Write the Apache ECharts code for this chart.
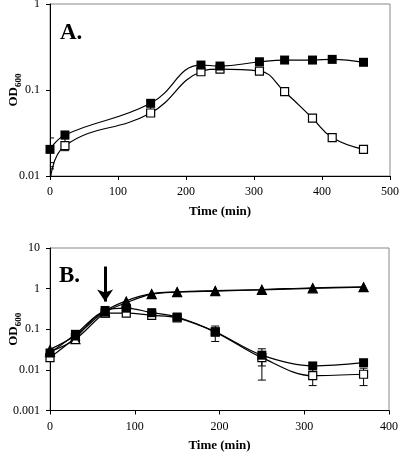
<!DOCTYPE html>
<html>
<head>
<meta charset="utf-8">
<script src="https://cdn.jsdelivr.net/npm/echarts@6/dist/echarts.min.js"></script>
<style>
html,body{margin:0;padding:0;background:#fff;}
#c{width:400px;height:461px;}
</style>
</head>
<body>
<div id="c"></div>
<script>
// ---- Panel A data ----
const timeA = [0, 22, 148, 222, 250, 308, 345, 386, 415, 461];
const filledA = [0.0204, 0.030, 0.070, 0.195, 0.19, 0.213, 0.223, 0.223, 0.227, 0.21];
const openA = [0.008, 0.0225, 0.054, 0.163, 0.175, 0.166, 0.0955, 0.047, 0.028, 0.0204];
// error bars: [time, low, high]
const errA = [[0, 0.0143, 0.0277], [0, 0.0121, 0.0128], [22, 0.0197, 0.027], [148, 0.05, 0.075]];
const xTicksA = [0, 100, 200, 300, 400, 500];
const yTicksA = [0.01, 0.1, 1];

// ---- Panel B data ----
const timeB = [0, 30, 65, 90, 120, 150, 195, 250, 310, 370];
const filledTriB = [0.032, 0.07, 0.28, 0.5, 0.75, 0.83, 0.89, 0.95, 1.05, 1.1];
const openTriB = [0.028, 0.057, 0.26, 0.45, 0.73, 0.82, 0.87, 0.93, 1.02, 1.08];
const filledSqB = [0.026, 0.075, 0.29, 0.33, 0.256, 0.2, 0.087, 0.023, 0.0125, 0.015];
const openSqB = [0.02, 0.062, 0.25, 0.25, 0.22, 0.19, 0.085, 0.02, 0.0072, 0.0078];
const errB = [[195, 0.05, 0.12], [250, 0.0125, 0.033], [250, 0.0056, 0.02], [310, 0.0041, 0.0125], [370, 0.0041, 0.011]];
const arrowB = [65, 3.5, 0.48];
const xTicksB = [0, 100, 200, 300, 400];
const yTicksB = [0.001, 0.01, 0.1, 1, 10];

const FONT = 'Liberation Serif';

function fmtLog(v){
  const r = Math.round(Math.log10(v));
  if (r >= 0) return String(Math.pow(10, r));
  return (Math.pow(10, r)).toFixed(-r);
}

function pairs(xs, ys){ return xs.map((x,i)=>[x, ys[i]]); }

function errRender(params, api){
  const x = api.value(0), lo = api.value(1), hi = api.value(2);
  const p1 = api.coord([x, hi]), p2 = api.coord([x, lo]);
  const w = 4;
  const st = {stroke:'#000', lineWidth:1};
  return {type:'group', children:[
    {type:'line', shape:{x1:p1[0],y1:p1[1],x2:p2[0],y2:p2[1]}, style:st},
    {type:'line', shape:{x1:p1[0]-w,y1:p1[1],x2:p1[0]+w,y2:p1[1]}, style:st},
    {type:'line', shape:{x1:p2[0]-w,y1:p2[1],x2:p2[0]+w,y2:p2[1]}, style:st}
  ]};
}

const axisLabelStyle = {fontFamily: FONT, fontSize: 12, color: '#000'};
const odName = '{a|OD}{b|600}';
const odRich = {
  a: {fontFamily: FONT, fontSize: 13, fontWeight: 'bold', color:'#000', lineHeight: 16, verticalAlign:'bottom'},
  b: {fontFamily: FONT, fontSize: 9, fontWeight: 'bold', color:'#000', lineHeight: 16, verticalAlign:'bottom', padding:[0,0,-3,0]}
};

function xAxis(gi, max, ticks){
  return {
    type:'value', gridIndex: gi, min: 0, max: max, interval: 100,
    name: 'Time (min)', nameLocation:'middle', nameGap: 29, nameMoveOverlap: false,
    nameTextStyle: {fontFamily: FONT, fontSize: 13, fontWeight:'bold', color:'#000'},
    axisLine:{show:true, onZero:false, lineStyle:{color:'#000', width:1}},
    axisTick:{show:true, length:4, lineStyle:{color:'#000'}},
    axisLabel: Object.assign({margin: 10, formatter: v => ticks.includes(v) ? String(v) : ''}, axisLabelStyle),
    splitLine:{show:false}
  };
}
function yAxis(gi, min, max){
  return {
    type:'log', gridIndex: gi, min: min, max: max, logBase: 10,
    name: odName, nameLocation:'middle', nameGap: 30, nameRotate: 90, nameMoveOverlap: false,
    nameTextStyle: {rich: odRich},
    axisLine:{show:true, onZero:false, lineStyle:{color:'#000', width:1}},
    axisTick:{show:true, length:4, lineStyle:{color:'#000'}},
    minorTick:{show:false},
    axisLabel: Object.assign({margin: 10, formatter: fmtLog}, axisLabelStyle),
    splitLine:{show:false}
  };
}

function lineSeries(xi, yi, data, symbol, filled, smooth, z, size){
  return {
    type:'line', xAxisIndex:xi, yAxisIndex:yi, data:data, smooth: smooth,
    symbol: symbol, symbolSize: size || 9, clip: true, z: z,
    lineStyle:{color:'#000', width:1.2},
    itemStyle:{color: filled ? '#000' : '#fff', borderColor:'#000', borderWidth: filled ? 0 : 1.2},
    emphasis:{disabled:true}, animation:false
  };
}

const chart = echarts.init(document.getElementById('c'), null, {renderer:'canvas'});
chart.setOption({
  animation:false,
  backgroundColor:'#fff',
  grid:[
    {left:50, top:4, width:340, height:172, show:true, borderColor:'#888', borderWidth:1, backgroundColor:'transparent', containLabel:false, outerBoundsMode:'none'},
    {left:50, top:248, width:339, height:162.5, show:true, borderColor:'#888', borderWidth:1, backgroundColor:'transparent', containLabel:false, outerBoundsMode:'none'}
  ],
  xAxis:[xAxis(0, 500, xTicksA), xAxis(1, 400, xTicksB)],
  yAxis:[yAxis(0, 0.01, 1), yAxis(1, 0.001, 10)],
  graphic:[
    {type:'text', left:60, top:22, style:{text:'A.', fontFamily:FONT, fontSize:23, fontWeight:'bold', fill:'#000'}},
    {type:'text', left:59, top:265, style:{text:'B.', fontFamily:FONT, fontSize:23, fontWeight:'bold', fill:'#000'}}
  ],
  series:[
    {type:'custom', xAxisIndex:0, yAxisIndex:0, data: errA, renderItem: errRender, encode:{x:0, y:[1,2]}, z:1, silent:true, clip:true},
    lineSeries(0,0, pairs(timeA, openA), 'rect', false, 0.45, 2, 8),
    lineSeries(0,0, pairs(timeA, filledA), 'rect', true, 0.45, 3, 9),
    {type:'custom', xAxisIndex:1, yAxisIndex:1, data: errB, renderItem: errRender, encode:{x:0, y:[1,2]}, z:1, silent:true, clip:true},
    lineSeries(1,1, pairs(timeB, openSqB), 'rect', false, 0.35, 2, 8),
    lineSeries(1,1, pairs(timeB, filledSqB), 'rect', true, 0.35, 3, 9),
    lineSeries(1,1, pairs(timeB, openTriB), 'triangle', false, 0.35, 2, 9),
    Object.assign(lineSeries(1,1, pairs(timeB, filledTriB), 'triangle', true, 0.35, 3, 10), {
      markLine:{
        silent:true, symbol:['none','arrow'], symbolSize:12,
        label:{show:false},
        lineStyle:{color:'#000', width:3, type:'solid'},
        data:[[{coord:[arrowB[0], arrowB[1]]}, {coord:[arrowB[0], arrowB[2]]}]]
      }
    })
  ]
});
</script>
</body>
</html>
